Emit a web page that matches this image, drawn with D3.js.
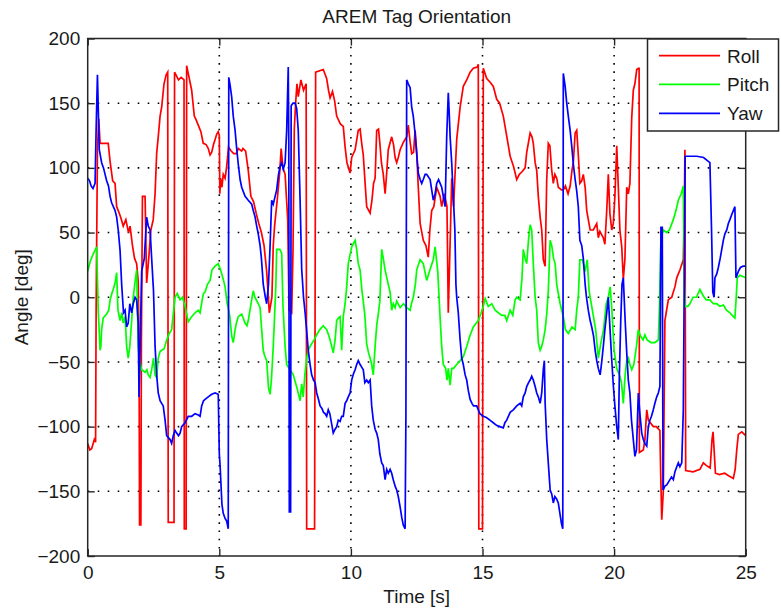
<!DOCTYPE html>
<html><head><meta charset="utf-8">
<script src="https://cdn.jsdelivr.net/npm/d3@7"></script>
<style>
body{margin:0;background:#fff}
svg{display:block}
text{font-family:"Liberation Sans",Arial,Helvetica,sans-serif;fill:#1a1a1a}
</style>
</head><body>
<svg id="chart" width="781" height="615"></svg>
<script>
// ---------- DATA (time [s], angle [deg]) ----------
const rollData=[[0,-113],[0.08,-118],[0.15,-117],[0.25,-110],[0.3,-112],[0.32,-10],[0.37,114],[0.42,138],[0.47,119],[0.78,119],[0.85,105],[0.95,90],[1.04,88],[1.1,70],[1.16,67],[1.25,62],[1.35,55],[1.45,60],[1.55,50],[1.61,55],[1.7,40],[1.78,30],[1.86,26],[1.92,12],[1.95,-33],[1.97,-176],[2.02,-176],[2.04,-35],[2.08,78],[2.18,78],[2.24,11],[2.32,30],[2.4,52],[2.49,60],[2.56,80],[2.62,111],[2.68,124],[2.75,140],[2.81,147],[2.9,165],[2.98,172],[3.04,174],[3.06,-174],[3.28,-174],[3.3,174],[3.45,168],[3.55,170],[3.66,168],[3.67,-179],[3.74,-179],[3.76,179],[3.82,173],[3.9,165],[3.95,160],[4.05,140],[4.1,138],[4.2,133],[4.3,128],[4.39,119],[4.5,118],[4.58,115],[4.65,110],[4.71,112],[4.78,118],[4.84,122],[4.9,126],[4.96,128],[5.0,125],[5.02,80],[5.05,92],[5.1,85],[5.15,95],[5.22,92],[5.28,101],[5.35,116],[5.45,113],[5.55,111],[5.65,111],[5.72,115],[5.85,113],[5.9,115],[6.0,113],[6.1,98],[6.2,78],[6.3,74],[6.4,65],[6.5,57],[6.6,50],[6.7,40],[6.8,20],[6.9,-12],[7.0,0],[7.05,40],[7.1,55],[7.2,75],[7.3,98],[7.35,115],[7.42,100],[7.5,95],[7.6,60],[7.65,-10],[7.75,-12],[7.8,36],[7.85,130],[7.9,150],[7.95,165],[8.0,155],[8.1,168],[8.2,160],[8.3,165],[8.32,-179],[8.62,-179],[8.66,174],[8.95,176],[9.08,169],[9.15,160],[9.21,154],[9.3,159],[9.38,152],[9.46,140],[9.6,134],[9.71,132],[9.78,116],[9.85,104],[9.97,96],[10.03,108],[10.16,114],[10.28,129],[10.35,130],[10.41,119],[10.47,110],[10.54,88],[10.6,70],[10.73,65],[10.8,75],[10.86,88],[10.92,92],[10.98,129],[11.05,130],[11.1,119],[11.16,104],[11.23,95],[11.3,80],[11.36,96],[11.42,114],[11.55,124],[11.62,118],[11.68,108],[11.74,104],[11.8,108],[11.87,114],[12.0,120],[12.12,124],[12.18,133],[12.25,120],[12.31,111],[12.38,112],[12.44,129],[12.5,112],[12.56,85],[12.63,57],[12.75,44],[12.85,40],[12.94,31],[13.0,52],[13.07,67],[13.15,70],[13.26,85],[13.39,78],[13.45,70],[13.55,80],[13.6,75],[13.65,70],[13.7,-12],[13.78,50],[13.83,92],[13.9,70],[13.95,92],[14.02,122],[14.15,147],[14.27,163],[14.4,168],[14.53,174],[14.65,177],[14.8,178],[14.84,180],[14.86,-179],[15.0,-179],[15.03,177],[15.16,169],[15.3,166],[15.41,163],[15.54,153],[15.65,150],[15.79,140],[15.9,127],[16.05,109],[16.18,101],[16.3,91],[16.4,95],[16.5,97],[16.62,100],[16.68,112],[16.75,120],[16.81,127],[16.88,124],[16.93,119],[17.0,104],[17.06,98],[17.12,78],[17.19,62],[17.25,52],[17.31,29],[17.38,24],[17.44,91],[17.5,119],[17.56,117],[17.63,98],[17.69,88],[17.75,95],[17.82,92],[17.88,85],[18.0,83],[18.07,83],[18.15,86],[18.25,80],[18.33,86],[18.4,98],[18.45,104],[18.52,127],[18.58,129],[18.64,110],[18.7,88],[18.77,90],[18.83,95],[18.9,85],[18.96,67],[19.02,60],[19.09,52],[19.21,52],[19.34,57],[19.4,46],[19.46,51],[19.59,46],[19.65,41],[19.72,67],[19.78,95],[19.84,65],[19.91,52],[19.97,57],[20.03,78],[20.1,117],[20.16,85],[20.22,52],[20.29,39],[20.35,14],[20.41,29],[20.48,85],[20.54,80],[20.6,88],[20.67,139],[20.73,160],[20.79,165],[20.86,176],[20.92,177],[20.95,177],[20.96,-120],[21.11,-118],[21.17,-110],[21.24,-87],[21.3,-95],[21.49,-100],[21.6,-100],[21.74,-103],[21.77,-136],[21.81,-172],[21.87,-150],[21.93,-18],[22.06,-2],[22.19,0],[22.31,8],[22.38,15],[22.5,21],[22.63,29],[22.67,70],[22.69,114],[22.72,-134],[23.0,-135],[23.26,-133],[23.39,-128],[23.5,-130],[23.65,-132],[23.72,-110],[23.76,-104],[23.8,-118],[23.85,-136],[24.0,-137],[24.2,-136],[24.35,-138],[24.53,-140],[24.6,-133],[24.66,-118],[24.72,-106],[24.85,-104],[25.0,-107]];

const pitchData=[[0,20],[0.1,28],[0.2,33],[0.34,39],[0.4,-10],[0.47,-41],[0.5,-38],[0.53,-25],[0.59,-16],[0.72,-13],[0.8,-10],[0.85,-2],[0.92,3],[0.97,6],[1.05,12],[1.1,19],[1.15,-10],[1.23,-18],[1.3,-12],[1.35,-20],[1.42,-15],[1.48,-38],[1.54,-47],[1.6,-38],[1.67,-18],[1.73,0],[1.8,12],[1.86,21],[1.92,-38],[1.98,-50],[2.05,-56],[2.18,-58],[2.25,-56],[2.3,-60],[2.37,-62],[2.43,-56],[2.5,-47],[2.56,-60],[2.62,-62],[2.68,-47],[2.75,-42],[2.81,-41],[2.9,-40],[3.0,-33],[3.1,-28],[3.19,-25],[3.25,-13],[3.32,0],[3.4,3],[3.51,-2],[3.6,0],[3.7,-7],[3.82,-19],[3.95,-15],[4.08,-12],[4.2,-10],[4.27,-12],[4.35,-2],[4.4,3],[4.46,4],[4.55,10],[4.65,13],[4.72,21],[4.84,24],[4.96,26],[5.05,21],[5.15,14],[5.22,8],[5.3,-5],[5.34,-8],[5.4,-15],[5.47,-30],[5.53,-35],[5.6,-25],[5.65,-20],[5.72,-15],[5.85,-13],[5.98,-20],[6.05,-22],[6.1,-18],[6.23,-2],[6.29,5],[6.35,0],[6.48,-5],[6.55,-8],[6.61,-25],[6.67,-41],[6.72,-45],[6.8,-49],[6.87,-70],[6.93,-75],[6.98,-64],[7.05,-38],[7.1,-15],[7.15,10],[7.18,37],[7.3,37],[7.37,34],[7.42,-7],[7.5,-38],[7.56,-52],[7.65,-55],[7.75,-58],[7.81,-60],[7.95,-70],[8.07,-80],[8.13,-67],[8.19,-77],[8.25,-60],[8.32,-47],[8.38,-41],[8.45,-38],[8.6,-33],[8.7,-29],[8.82,-25],[8.95,-22],[9.08,-25],[9.15,-29],[9.21,-33],[9.27,-38],[9.33,-43],[9.4,-33],[9.46,-18],[9.53,-16],[9.59,-15],[9.65,-41],[9.71,-15],[9.78,-5],[9.84,8],[9.9,26],[10.03,39],[10.16,44],[10.22,37],[10.28,26],[10.35,21],[10.42,5],[10.47,-3],[10.53,-14],[10.6,-36],[10.67,-43],[10.73,-47],[10.79,-52],[10.85,-60],[10.92,-38],[10.98,-22],[11.04,-13],[11.1,-3],[11.17,37],[11.23,30],[11.3,21],[11.42,10],[11.49,4],[11.55,-10],[11.61,-5],[11.68,-8],[11.74,-3],[11.87,-8],[12.0,-5],[12.12,-8],[12.25,-10],[12.3,-5],[12.37,0],[12.45,10],[12.5,21],[12.63,29],[12.75,26],[12.88,13],[13.0,21],[13.13,29],[13.2,39],[13.3,20],[13.35,0],[13.4,-20],[13.45,-38],[13.51,-52],[13.6,-55],[13.65,-64],[13.7,-55],[13.77,-68],[13.83,-55],[13.9,-55],[14.02,-52],[14.15,-49],[14.27,-46],[14.4,-38],[14.52,-30],[14.65,-23],[14.84,-18],[14.95,-12],[15.03,-7],[15.1,-1],[15.22,-7],[15.35,-5],[15.48,-10],[15.6,-12],[15.73,-14],[15.85,-14],[15.92,-18],[16.05,-10],[16.15,-14],[16.24,-2],[16.3,0],[16.43,-2],[16.5,15],[16.55,37],[16.62,30],[16.68,26],[16.75,45],[16.81,56],[16.87,52],[16.93,26],[17.0,0],[17.06,-10],[17.12,-35],[17.19,-41],[17.25,-38],[17.31,-33],[17.38,-25],[17.44,-13],[17.5,5],[17.57,44],[17.63,40],[17.7,30],[17.76,26],[17.82,10],[17.88,3],[17.95,-5],[18.07,-15],[18.15,-25],[18.26,-28],[18.4,-23],[18.52,-25],[18.58,-10],[18.64,0],[18.7,29],[18.8,29],[18.9,20],[18.98,29],[19.05,5],[19.09,0],[19.2,-13],[19.3,-25],[19.4,-47],[19.5,-35],[19.6,-25],[19.7,-5],[19.78,0],[19.85,8],[19.91,-8],[20.0,-41],[20.1,-55],[20.2,-60],[20.28,-66],[20.35,-82],[20.42,-60],[20.48,-49],[20.54,-47],[20.6,-52],[20.67,-56],[20.75,-52],[20.85,-38],[20.92,-25],[21.0,-30],[21.1,-33],[21.17,-29],[21.25,-33],[21.4,-35],[21.55,-35],[21.68,-33],[21.72,-10],[21.78,45],[21.87,52],[22.0,50],[22.1,52],[22.25,60],[22.35,67],[22.44,75],[22.55,80],[22.63,86],[22.66,20],[22.69,-7],[22.8,-7],[22.88,-5],[23.0,0],[23.13,0],[23.26,6],[23.39,1],[23.5,-2],[23.64,-2],[23.77,-5],[23.9,-5],[24.02,-7],[24.15,-6],[24.27,-10],[24.4,-12],[24.53,-15],[24.59,-16],[24.64,0],[24.68,15],[24.78,17],[25.0,15]];

const yawData=[[0,92],[0.07,90],[0.13,86],[0.2,84],[0.28,88],[0.32,129],[0.37,172],[0.4,147],[0.44,114],[0.53,104],[0.6,100],[0.66,95],[0.72,90],[0.79,86],[0.85,78],[0.91,73],[1.04,67],[1.1,62],[1.16,52],[1.23,36],[1.29,10],[1.36,-12],[1.42,-10],[1.48,-23],[1.54,-20],[1.6,-5],[1.67,-12],[1.73,-5],[1.8,0],[1.86,-2],[1.92,-20],[1.95,-77],[2.0,-30],[2.05,20],[2.15,30],[2.24,62],[2.3,55],[2.37,52],[2.43,30],[2.5,5],[2.56,-38],[2.62,-60],[2.68,-74],[2.75,-80],[2.81,-82],[2.87,-84],[2.94,-95],[3.0,-107],[3.13,-110],[3.19,-113],[3.25,-107],[3.32,-103],[3.38,-105],[3.45,-107],[3.51,-105],[3.57,-100],[3.7,-97],[3.82,-92],[3.95,-92],[4.08,-90],[4.2,-91],[4.27,-92],[4.33,-84],[4.4,-80],[4.46,-79],[4.58,-77],[4.71,-75],[4.84,-74],[4.96,-75],[5.0,-121],[5.03,-130],[5.1,-160],[5.15,-167],[5.22,-171],[5.28,-173],[5.34,-179],[5.36,170],[5.41,164],[5.47,155],[5.53,140],[5.6,129],[5.66,115],[5.72,103],[5.79,91],[5.85,85],[5.98,78],[6.1,75],[6.23,72],[6.29,67],[6.36,62],[6.42,55],[6.48,49],[6.55,40],[6.6,30],[6.67,10],[6.75,0],[6.8,-5],[6.87,10],[6.93,40],[6.99,75],[7.05,72],[7.12,78],[7.18,83],[7.25,95],[7.31,101],[7.37,104],[7.43,99],[7.5,104],[7.56,129],[7.62,178],[7.64,120],[7.66,-166],[7.71,-166],[7.73,148],[7.8,150],[7.88,150],[7.94,146],[8.0,129],[8.07,75],[8.13,22],[8.2,0],[8.26,-12],[8.32,-26],[8.38,-41],[8.45,-52],[8.51,-60],[8.58,-64],[8.64,-66],[8.7,-74],[8.77,-79],[8.83,-84],[8.9,-86],[8.96,-89],[9.02,-90],[9.08,-92],[9.14,-87],[9.2,-90],[9.27,-98],[9.33,-105],[9.4,-102],[9.46,-100],[9.52,-95],[9.59,-96],[9.65,-92],[9.71,-92],[9.78,-82],[9.84,-80],[9.9,-77],[9.97,-74],[10.03,-64],[10.1,-59],[10.16,-56],[10.22,-52],[10.28,-49],[10.35,-52],[10.41,-54],[10.47,-56],[10.53,-66],[10.6,-64],[10.66,-66],[10.73,-64],[10.79,-84],[10.85,-95],[10.92,-102],[10.98,-105],[11.04,-110],[11.1,-121],[11.17,-128],[11.23,-130],[11.3,-141],[11.36,-133],[11.42,-136],[11.49,-133],[11.55,-136],[11.61,-141],[11.68,-146],[11.74,-149],[11.8,-154],[11.87,-162],[11.93,-170],[11.99,-176],[12.06,-179],[12.09,-92],[12.12,168],[12.18,165],[12.25,162],[12.31,147],[12.37,140],[12.44,126],[12.5,111],[12.56,96],[12.63,91],[12.69,88],[12.75,91],[12.82,95],[12.88,95],[13.01,91],[13.07,83],[13.13,75],[13.2,80],[13.26,88],[13.33,91],[13.39,88],[13.45,85],[13.51,78],[13.58,70],[13.64,124],[13.7,158],[13.74,140],[13.77,124],[13.83,104],[13.89,78],[13.95,52],[13.99,10],[14.02,0],[14.08,-12],[14.15,-33],[14.21,-47],[14.27,-52],[14.34,-60],[14.4,-64],[14.46,-72],[14.53,-79],[14.6,-82],[14.66,-84],[14.78,-84],[14.9,-90],[15.03,-92],[15.15,-93],[15.28,-95],[15.41,-97],[15.53,-99],[15.66,-100],[15.79,-101],[15.85,-97],[15.92,-95],[16.05,-89],[16.17,-87],[16.3,-84],[16.43,-82],[16.49,-84],[16.55,-77],[16.62,-74],[16.68,-69],[16.75,-66],[16.81,-64],[16.87,-61],[16.93,-64],[17.0,-69],[17.06,-74],[17.12,-77],[17.19,-82],[17.25,-74],[17.31,-56],[17.35,-49],[17.38,-82],[17.44,-110],[17.5,-128],[17.57,-149],[17.63,-152],[17.69,-159],[17.75,-154],[17.82,-156],[17.88,-159],[17.94,-167],[18.0,-175],[18.05,-179],[18.07,173],[18.14,163],[18.2,150],[18.26,140],[18.33,129],[18.39,117],[18.45,103],[18.52,91],[18.58,82],[18.64,70],[18.7,44],[18.77,40],[18.83,30],[18.9,10],[18.95,0],[19.02,-10],[19.09,-18],[19.15,-23],[19.22,-30],[19.28,-41],[19.34,-49],[19.4,-55],[19.47,-60],[19.53,-50],[19.59,-38],[19.65,-25],[19.72,-12],[19.78,0],[19.84,-23],[19.9,-45],[19.97,-68],[20.03,-84],[20.1,-100],[20.16,-110],[20.2,-60],[20.25,-20],[20.3,10],[20.35,15],[20.42,-18],[20.48,-43],[20.54,-64],[20.6,-74],[20.66,-95],[20.73,-110],[20.79,-123],[20.85,-118],[20.92,-74],[20.98,-90],[21.05,-105],[21.11,-110],[21.17,-113],[21.24,-115],[21.3,-100],[21.36,-95],[21.42,-92],[21.49,-87],[21.55,-82],[21.62,-77],[21.68,-74],[21.74,-69],[21.78,54],[21.83,54],[21.86,-149],[21.93,-146],[22.0,-145],[22.12,-141],[22.18,-139],[22.25,-141],[22.31,-135],[22.38,-131],[22.44,-128],[22.5,-131],[22.57,-128],[22.63,-87],[22.7,109],[23.14,109],[23.4,108],[23.52,106],[23.64,104],[23.7,54],[23.75,4],[23.8,0],[23.83,15],[23.9,18],[23.96,23],[24.03,30],[24.09,37],[24.15,44],[24.21,49],[24.28,52],[24.34,57],[24.4,60],[24.47,64],[24.53,67],[24.59,70],[24.63,15],[24.72,20],[24.8,23],[24.9,24],[25.0,24]];

const seriesNames=["Roll","Pitch","Yaw"];
const seriesColors=["#ff0000","#00ff00","#0000ff"];
const xTicks=[0,5,10,15,20,25];
const yTicks=[-200,-150,-100,-50,0,50,100,150,200];
const titleText="AREM Tag Orientation";
const xLabel="Time [s]";
const yLabel="Angle [deg]";

// ---------- LAYOUT ----------
const L=87.7, R=745.7, T=38.5, B=556;
const svg=d3.select("#chart");
const x=d3.scaleLinear().domain([0,25]).range([L,R]);
const y=d3.scaleLinear().domain([-200,200]).range([B,T]);
const FS=19;
const axisColor="#262626";

// grid
const g=svg.append("g");
g.selectAll(".gx").data(xTicks.filter(d=>d>0&&d<25)).enter().append("line")
  .attr("x1",d=>x(d)).attr("x2",d=>x(d)).attr("y1",T).attr("y2",B)
  .attr("stroke","#000").attr("stroke-width",1.6).attr("stroke-dasharray","1.6,6.6");
g.selectAll(".gy").data(yTicks.filter(d=>d>-200&&d<200)).enter().append("line")
  .attr("y1",d=>y(d)).attr("y2",d=>y(d)).attr("x1",L).attr("x2",R)
  .attr("stroke","#000").attr("stroke-width",1.6).attr("stroke-dasharray","1.6,8.4");

// series
const line=d3.line().x(d=>x(d[0])).y(d=>y(d[1]));
const allSeries=[rollData,pitchData,yawData];
svg.append("g").selectAll("path").data(allSeries).enter().append("path")
  .attr("d",line).attr("fill","none")
  .attr("stroke",(d,i)=>seriesColors[i]).attr("stroke-width",1.7)
  .attr("stroke-linejoin","miter");

// axes
function styleAxis(sel){
  sel.select(".domain").remove();
  sel.selectAll(".tick line").attr("stroke",axisColor).attr("stroke-width",1.4);
  sel.selectAll(".tick text").attr("font-size",FS).attr("fill","#1a1a1a")
    .attr("font-family","'Liberation Sans',Arial,sans-serif");
}
const ax=svg.append("g").attr("transform",`translate(0,${B})`)
  .call(d3.axisBottom(x).tickValues(xTicks).tickSizeInner(-7).tickSizeOuter(0).tickPadding(9.5));
styleAxis(ax);
const at=svg.append("g").attr("transform",`translate(0,${T})`)
  .call(d3.axisTop(x).tickValues(xTicks).tickSizeInner(-7).tickSizeOuter(0).tickFormat(""));
styleAxis(at);
const ay=svg.append("g").attr("transform",`translate(${L},0)`)
  .call(d3.axisLeft(y).tickValues(yTicks).tickSizeInner(-7).tickSizeOuter(0).tickPadding(7.5));
styleAxis(ay);
const ar=svg.append("g").attr("transform",`translate(${R},0)`)
  .call(d3.axisRight(y).tickValues(yTicks).tickSizeInner(-7).tickSizeOuter(0).tickFormat(""));
styleAxis(ar);

// box
svg.append("rect").attr("x",L).attr("y",T).attr("width",R-L).attr("height",B-T)
  .attr("fill","none").attr("stroke",axisColor).attr("stroke-width",1.5);

// titles
svg.append("text").attr("x",(L+R)/2).attr("y",23).attr("text-anchor","middle")
  .attr("font-size",FS).text(titleText);
svg.append("text").attr("x",(L+R)/2).attr("y",603).attr("text-anchor","middle")
  .attr("font-size",FS).text(xLabel);
svg.append("text").attr("transform",`translate(28,${(T+B)/2}) rotate(-90)`)
  .attr("text-anchor","middle").attr("font-size",FS).text(yLabel);

// legend
const lg=svg.append("g");
const lx=647.5, ly=39, lw=131, lh=92;
lg.append("rect").attr("x",lx).attr("y",ly).attr("width",lw).attr("height",lh)
  .attr("fill","#fff").attr("stroke",axisColor).attr("stroke-width",1.5);
const rowY=[55.7,84.3,113.3];
seriesNames.forEach((n,i)=>{
  lg.append("line").attr("x1",659).attr("x2",720).attr("y1",rowY[i]).attr("y2",rowY[i])
    .attr("stroke",seriesColors[i]).attr("stroke-width",1.7);
  lg.append("text").attr("x",727).attr("y",rowY[i]+7).attr("font-size",FS).text(n);
});
</script>
</body></html>
